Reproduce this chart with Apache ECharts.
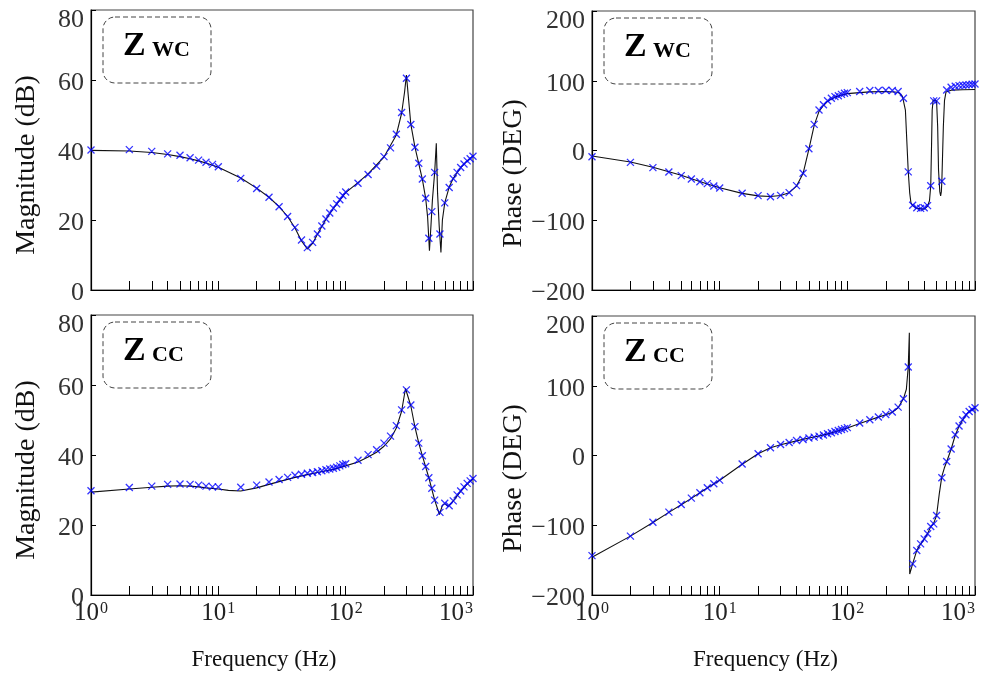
<!DOCTYPE html>
<html>
<head>
<meta charset="utf-8">
<script src="https://cdn.jsdelivr.net/npm/echarts@6/dist/echarts.min.js"></script>
<style>
html,body{margin:0;padding:0;background:#fff;}
#chart{width:990px;height:677px;}
</style>
</head>
<body>
<div id="chart"></div>
<script>
// ---------- data ----------
const markerFreq = [1,2,3,4,5,6,7,8,9,10,15,20,25,30,35,40,45,50,55,60,65,70,75,80,85,90,95,100,125,150,175,200,225,250,275,300,325,350,375,400,425,450,475,500,550,600,650,700,750,800,850,900,950,1000];

const markMagWc = [40.0,40.1,39.6,38.9,38.5,37.8,37.1,36.5,35.9,35.2,31.9,29.0,26.5,23.8,21.0,17.9,14.3,12.1,13.6,16.0,18.3,20.3,22.0,23.4,24.6,25.8,27.0,28.0,30.5,33.0,35.4,38.1,40.6,44.5,50.7,60.5,47.3,40.8,36.2,31.7,26.2,14.8,22.4,33.6,16.0,24.9,29.3,31.8,33.6,35.0,36.0,36.9,37.5,38.2];
const markPhWc = [-8.9,-17,-24.6,-30.8,-36,-40.9,-44.7,-47.5,-50.9,-53.8,-61.4,-64.7,-66.2,-64.3,-60.4,-50.4,-32.7,2.6,37.5,58,65.7,71.4,74.8,77.2,78.6,80.5,82,83,84.5,86,86,86.5,86,84.5,74.8,-30.6,-78.6,-82,-83,-82,-79,-50.6,71.2,71.2,-44.2,86.7,90.6,92,93,93.5,94,94.5,95,95.3];
const markMagCc = [29.8,30.7,31.1,31.6,31.7,31.6,31.4,31.1,30.9,30.9,30.8,31.4,32.3,33.0,33.6,34.2,34.5,34.8,35.0,35.2,35.5,35.8,36.0,36.2,36.5,36.9,37.3,37.5,38.5,40.1,41.5,43.4,45.4,48.4,52.9,58.6,54.3,48.1,43.4,39.8,36.7,33.5,30.5,27.1,23.6,26.2,25.5,26.9,28.6,29.7,30.9,31.9,32.6,33.3];
const markPhCc = [-143.5,-115.6,-95.6,-81.2,-70.3,-61.1,-53.5,-46.3,-40.6,-35.3,-12.3,2.4,11,15.8,18.7,21.5,23,25,26.4,27.8,29.3,31.1,32.6,34.4,35.9,37.3,38.5,40,46.5,51.2,55.1,58.8,62.3,69.4,81.3,126.8,-155.4,-136.3,-126.7,-119.5,-112.3,-101.9,-98,-86.1,-32,-8.6,9.2,29.7,42.2,51.2,58.4,63.1,66,68.4];

const lineMagWcFreq = [1,2,3,4,5,6,7,8,10,15,20,25,30,35,40,45,50,55,60,70,80,100,125,150,200,250,275,290,300,310,325,350,400,425,440,455,467,480,500,515,527,543,560,575,600,650,700,800,900,1000];
const lineMagWc = [39.9,39.7,39.3,38.7,38.1,37.5,36.9,36.3,35.1,32.0,29.1,26.5,23.8,21.0,17.7,14.0,11.7,13.3,15.9,20.2,23.3,27.8,30.7,33.2,38.0,44.3,50.5,56.5,61.4,55.6,47.3,40.8,31.7,26.2,20.9,11.2,18.1,25.7,33.6,41.9,27.6,18.1,10.7,20.0,24.9,29.4,31.9,35.0,36.9,38.3];

const linePhWcFreq = [1,2,3,4,5,6,7,8,10,15,20,25,30,35,40,45,50,55,60,65,70,80,90,100,125,150,200,250,270,285,293,300,308,315,325,350,400,425,440,450,457,462,470,485,500,510,518,530,538,545,550,565,577,593,650,800,1000];
const linePhWc = [-8,-16.5,-24,-30.5,-35.5,-40.5,-44.5,-48,-53.5,-61.5,-65,-66,-64.5,-60.5,-51,-33,2,36,56,64.5,70.5,76.5,79.5,81.5,83,84,84.5,83.5,78,58,10,-30,-61,-75,-79,-83,-84,-80,-72,-51,10,58,72.4,73.4,71,34,-28,-59,-65,-59,-44,34,72,84,86.5,87,87.5];

const lineMagCcFreq = [1,2,3,4,5,6,7,8,10,12,15,20,25,30,40,50,60,70,80,90,100,125,150,175,200,225,250,275,295,325,350,375,400,450,500,545,575,600,640,700,800,900,1000];
const lineMagCc = [29.4,30.3,30.8,31.1,31.2,31.1,30.9,30.6,30.3,29.9,29.7,30.6,31.6,32.4,33.6,34.4,35.0,35.5,35.9,36.4,36.9,38.0,39.4,40.8,42.5,44.6,47.7,52.5,59.0,54.0,48.0,43.4,39.8,33.5,27.1,23.0,25.6,26.1,25.3,26.9,29.6,31.7,33.2];

const linePhCcFreq = [1,2,3,4,5,6,7,8,10,15,20,25,30,40,50,60,70,80,90,100,125,150,175,200,225,250,275,290,300,306,308,325,350,375,400,425,450,475,500,525,550,575,600,650,700,750,800,850,900,950,1000];
const linePhCc = [-146,-115.6,-96,-81.5,-70.5,-61.5,-53.5,-46.5,-35.5,-12.5,2.5,11,15.5,21,25,28,31,34,37,39.5,46,51,55,58.5,62,68.5,81.3,95,127,176,-170,-155,-136,-127,-120,-112,-102,-97,-86,-55,-30,-18,-9,9,29,42,51,58,63,66,68];

const xTickValues = [1,10,100,1000];
const xTickExponents = ['0','1','2','3'];
const xMinorTicks = [1,2,3,4,5,6,7,8,9,10,20,30,40,50,60,70,80,90,100,200,300,400,500,600,700,800,900,1000];
const magTicks = {min:0, max:80, interval:20};
const phTicks = {min:-200, max:200, interval:100};
const panelNames = [['Z','WC'],['Z','WC'],['Z','CC'],['Z','CC']];
const yNames = ['Magnitude (dB)','Phase (DEG)','Magnitude (dB)','Phase (DEG)'];
const xName = 'Frequency (Hz)';

// ---------- chart ----------
const FONT = '"Liberation Serif","Times New Roman",serif';
const grids = [
  {left:91, top:10, width:382, height:280},
  {left:592, top:11, width:383, height:279},
  {left:91, top:315, width:382, height:280},
  {left:592, top:316, width:383, height:279}
];
const panels = [
  {lf:lineMagWcFreq, lv:lineMagWc, mv:markMagWc, y:magTicks},
  {lf:linePhWcFreq, lv:linePhWc, mv:markPhWc, y:phTicks},
  {lf:lineMagCcFreq, lv:lineMagCc, mv:markMagCc, y:magTicks},
  {lf:linePhCcFreq, lv:linePhCc, mv:markPhCc, y:phTicks}
];

function zip(a,b){ return a.map((v,i)=>[v,b[i]]); }
function fmtY(v){ return v<0 ? '\u2212'+(-v) : String(v); }

const option = {
  backgroundColor:'#fff',
  animation:false,
  grid: grids.map(g=>Object.assign({show:true, borderColor:'#444', borderWidth:1.2, backgroundColor:'transparent', containLabel:false, outerBoundsMode:'none'}, g)),
  xAxis: grids.map((g,i)=>({
    type:'log', logBase:10, min:1, max:1000, gridIndex:i,
    axisLine:{show:true, onZero:false, lineStyle:{color:'#000', width:1.2}},
    axisTick:{show:true, inside:true, length:9, customValues:xMinorTicks, lineStyle:{color:'#000', width:1}},
    minorTick:{show:false},
    splitLine:{show:false},
    axisLabel:{
      show: i>=2, customValues:xTickValues, margin:6, hideOverlap:false, alignMaxLabel:'right',
      formatter:(v)=>{ const k=xTickValues.indexOf(v); return '{b|10}{s|'+(k>=0?xTickExponents[k]:'')+'}'; },
      rich:{ b:{fontFamily:FONT, fontSize:25, color:'#222'}, s:{fontFamily:FONT, fontSize:16, color:'#222', verticalAlign:'top', padding:[0,0,0,1]} }
    },
    name: i>=2 ? xName : '',
    nameLocation:'middle', nameGap:53,
    nameTextStyle:{fontFamily:FONT, fontSize:23, color:'#111', padding:[0,36,0,0]}
  })),
  yAxis: grids.map((g,i)=>({
    type:'value', gridIndex:i, min:panels[i].y.min, max:panels[i].y.max, interval:panels[i].y.interval,
    axisLine:{show:true, onZero:false, lineStyle:{color:'#000', width:1.2}},
    axisTick:{show:true, inside:true, length:5, lineStyle:{color:'#000'}},
    splitLine:{show:false},
    axisLabel:{fontFamily:FONT, fontSize:26, color:'#333', margin:7, padding:[6,0,0,0],
      formatter:(v)=> v===panels[i].y.max ? '{t|'+fmtY(v)+'}' : fmtY(v),
      rich:{ t:{fontFamily:FONT, fontSize:26, color:'#333', lineHeight:40, verticalAlign:'bottom'} }
    },
    name: yNames[i], nameLocation:'middle', nameGap: (i%2===0)? 50 : 60,
    nameTextStyle:{fontFamily:FONT, fontSize:28, color:'#111', padding: (i%2===0)? [0,30,0,0] : [0,46,0,0]}
  })),
  series: panels.flatMap((p,i)=>[
    {type:'line', xAxisIndex:i, yAxisIndex:i, data:zip(p.lf,p.lv), showSymbol:false, symbol:'none',
     lineStyle:{color:'#111', width:1.1}, z:2, silent:true},
    {type:'scatter', xAxisIndex:i, yAxisIndex:i, data:zip(markerFreq,p.mv),
     symbol:'path://M0,0L10,10M10,0L0,10', symbolSize:7,
     itemStyle:{color:'transparent', borderColor:'#0000ff', borderWidth:1.3}, z:3, silent:true}
  ]),
  graphic: grids.map((g,i)=>({
    type:'group', x: g.left+12, y: g.top+7,
    children:[
      {type:'rect', shape:{x:0,y:0,width:108,height:66,r:12},
       style:{fill:'none', stroke:'#444', lineWidth:1, lineDash:[5,3]}},
      {type:'text', x:20, y:29, style:{text:panelNames[i][0], font:'bold 34px '+FONT, fill:'#000', verticalAlign:'middle'}},
      {type:'text', x:49, y:33, style:{text:panelNames[i][1], font:'bold 22px '+FONT, fill:'#000', verticalAlign:'middle'}}
    ]
  }))
};

const chart = echarts.init(document.getElementById('chart'), null, {renderer:'canvas'});
chart.setOption(option);
</script>
</body>
</html>
